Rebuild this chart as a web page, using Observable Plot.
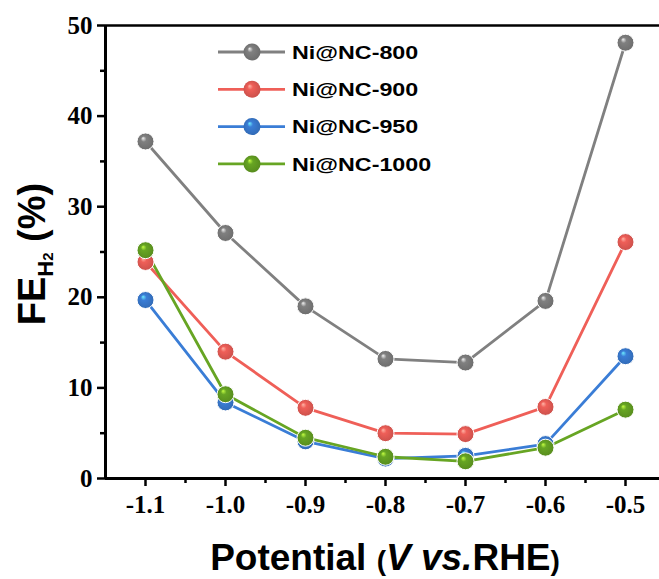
<!DOCTYPE html>
<html>
<head>
<meta charset="utf-8">
<script src="https://cdn.jsdelivr.net/npm/d3@7"></script>
<script src="https://cdn.jsdelivr.net/npm/@observablehq/plot@0.6"></script>
<style>
  html, body { margin: 0; padding: 0; background: #fff; overflow: hidden; }
  #chart { width: 659px; height: 579px; overflow: hidden; }
</style>
</head>
<body>
<div id="chart"></div>
<script>
// ---- data ----
const potentials = [-1.1, -1.0, -0.9, -0.8, -0.7, -0.6, -0.5];
const fe800  = [37.2, 27.1, 19.0, 13.2, 12.8, 19.6, 48.1];
const fe900  = [23.9, 14.0, 7.8, 5.0, 4.9, 7.9, 26.1];
const fe950  = [19.7, 8.4, 4.1, 2.2, 2.5, 3.8, 13.5];
const fe1000 = [25.2, 9.3, 4.5, 2.4, 1.9, 3.4, 7.6];
const seriesNames = ["Ni@NC-800", "Ni@NC-900", "Ni@NC-950", "Ni@NC-1000"];
const seriesColors = ["#808080", "#ef5f58", "#3a7dd6", "#67a523"];
const xTicks = [-1.1, -1.0, -0.9, -0.8, -0.7, -0.6, -0.5];
const xMinor = [-1.05, -0.95, -0.85, -0.75, -0.65, -0.55];
const yTicks = [0, 10, 20, 30, 40, 50];
const yMinor = [5, 15, 25, 35, 45];

const allValues = [fe800, fe900, fe950, fe1000];
const rows = [];
allValues.forEach((vals, s) => vals.forEach((v, i) => rows.push({series: seriesNames[s], x: potentials[i], y: v})));

const serifFont = "'Liberation Serif', 'Times New Roman', serif";
const sansFont = "'Liberation Sans', Arial, sans-serif";

const marks = [
  Plot.axisY({ticks: yTicks, tickSize: 8, tickPadding: 5, strokeWidth: 2.5, label: null,
    fontSize: 25, fontWeight: "bold", fontFamily: serifFont}),
  Plot.axisY({ticks: yMinor, tickSize: 5, strokeWidth: 2.5, text: null, label: null}),
  Plot.axisX({ticks: xTicks, tickSize: 8, tickPadding: 9, strokeWidth: 2.5, label: null,
    tickFormat: d => d.toFixed(1), fontSize: 25, fontWeight: "bold", fontFamily: serifFont}),
  Plot.axisX({ticks: xMinor, tickSize: 5, strokeWidth: 2.5, text: null, label: null}),
  Plot.ruleX([-1.15], {strokeWidth: 3, stroke: "#000"}),
  Plot.ruleY([0], {strokeWidth: 3, stroke: "#000"}),
  Plot.ruleY([50], {strokeWidth: 2.5, stroke: "#000"})
];
seriesNames.forEach((name, s) => {
  const d = rows.filter(r => r.series === name);
  marks.push(Plot.line(d, {x: "x", y: "y", stroke: seriesColors[s], strokeWidth: 2.8}));
});
seriesNames.forEach((name, s) => {
  const d = rows.filter(r => r.series === name);
  marks.push(Plot.dot(d, {x: "x", y: "y", r: 8.5, fill: `url(#grad${s})`, stroke: "#fff", strokeWidth: 1}));
});

const chart = Plot.plot({
  width: 665,
  height: 579,
  marginLeft: 105,
  marginRight: 0,
  marginTop: 25,
  marginBottom: 101,
  style: {maxWidth: "none", background: "#fff", overflow: "visible"},
  x: {domain: [-1.15, -0.45]},
  y: {domain: [0, 50]},
  marks
});

const svg = d3.select(chart);
const defs = svg.insert("defs", ":first-child");
seriesColors.forEach((c, s) => {
  const g = defs.append("radialGradient").attr("id", `grad${s}`)
    .attr("cx", "50%").attr("cy", "50%").attr("r", "55%")
    .attr("fx", "35%").attr("fy", "30%");
  g.append("stop").attr("offset", "0%").attr("stop-color", d3.color(c).brighter(1.8).formatHex());
  g.append("stop").attr("offset", "30%").attr("stop-color", c);
  g.append("stop").attr("offset", "100%").attr("stop-color", d3.color(c).darker(0.5).formatHex());
});

// Y axis title
const yt = svg.append("text")
  .attr("transform", "translate(45,254) rotate(-90)")
  .attr("text-anchor", "middle")
  .style("font-family", sansFont).style("font-weight", "bold").attr("fill", "#000");
yt.append("tspan").style("font-size", "38px").text("FE");
yt.append("tspan").style("font-size", "22px").attr("dy", 8).text("H");
yt.append("tspan").style("font-size", "15px").text("2");
yt.append("tspan").style("font-size", "38px").attr("dy", -8).text(" (%)");

// X axis title
const xt = svg.append("text")
  .attr("x", 385).attr("y", 570)
  .attr("text-anchor", "middle")
  .style("font-family", sansFont).style("font-weight", "bold").attr("fill", "#000");
xt.append("tspan").style("font-size", "37px").text("Potential ");
xt.append("tspan").style("font-size", "28px").text("(");
xt.append("tspan").style("font-size", "37px").style("font-style", "italic").text("V vs.");
xt.append("tspan").style("font-size", "37px").text("RHE");
xt.append("tspan").style("font-size", "28px").text(")");

// Legend
const lg = svg.append("g").attr("transform", "translate(218,52)");
const stretch = 1.24;
seriesNames.forEach((name, s) => {
  const row = lg.append("g").attr("transform", `translate(0,${s * 37.3})`);
  row.append("line").attr("x1", 0).attr("x2", 67).attr("y1", 0).attr("y2", 0)
    .attr("stroke", seriesColors[s]).attr("stroke-width", 2.8);
  row.append("circle").attr("cx", 34).attr("cy", 0).attr("r", 8.5)
    .attr("fill", `url(#grad${s})`);
  row.append("text").attr("transform", `translate(74,6.8) scale(${stretch},1)`)
    .attr("text-anchor", "start")
    .style("font-family", sansFont).style("font-weight", "bold").style("font-size", "18.8px")
    .attr("fill", "#000").text(name);
});

document.getElementById("chart").appendChild(chart);
</script>
</body>
</html>
